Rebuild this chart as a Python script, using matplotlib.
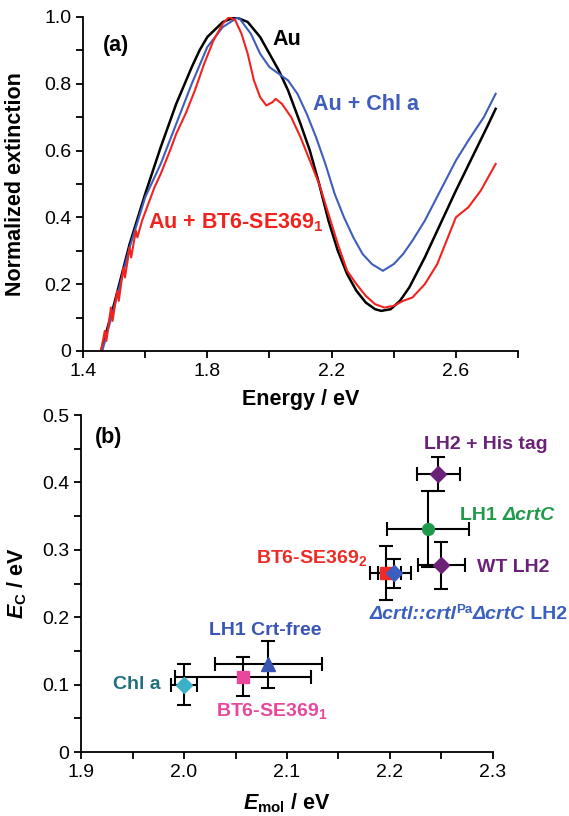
import matplotlib
matplotlib.use("Agg")
import matplotlib.pyplot as plt
from matplotlib.ticker import MultipleLocator, FixedLocator, FuncFormatter

plt.rcParams['font.family'] = ['Liberation Sans', 'DejaVu Sans']
plt.rcParams['mathtext.fontset'] = 'custom'
plt.rcParams['mathtext.rm'] = 'Liberation Sans:bold'
plt.rcParams['mathtext.bf'] = 'Liberation Sans:bold'
plt.rcParams['mathtext.it'] = 'Liberation Sans:italic:bold'

# (a) extinction spectra
au_e = [1.458, 1.50, 1.55, 1.60, 1.65, 1.70, 1.75, 1.775, 1.80, 1.85, 1.89, 1.93, 1.97,
        2.00, 2.03, 2.06, 2.10, 2.13, 2.16, 2.19, 2.22, 2.25, 2.28, 2.31, 2.34, 2.36,
        2.39, 2.42, 2.45, 2.50, 2.55, 2.60, 2.65, 2.70, 2.728]
au_v = [0.00, 0.14, 0.32, 0.47, 0.61, 0.74, 0.85, 0.90, 0.94, 0.985, 1.00, 0.985, 0.94,
        0.89, 0.84, 0.78, 0.68, 0.60, 0.50, 0.39, 0.30, 0.23, 0.18, 0.145, 0.125, 0.12,
        0.125, 0.15, 0.19, 0.28, 0.38, 0.48, 0.575, 0.67, 0.725]

chl_e = [1.462, 1.50, 1.55, 1.60, 1.65, 1.70, 1.75, 1.80, 1.85, 1.90, 1.94, 1.97, 2.00,
         2.03, 2.06, 2.09, 2.12, 2.15, 2.18, 2.21, 2.24, 2.27, 2.30, 2.33, 2.365, 2.40,
         2.43, 2.46, 2.50, 2.55, 2.60, 2.64, 2.69, 2.728]
chl_v = [0.00, 0.13, 0.31, 0.46, 0.56, 0.68, 0.80, 0.91, 0.97, 1.00, 0.95, 0.89, 0.85,
         0.83, 0.81, 0.77, 0.71, 0.64, 0.56, 0.47, 0.40, 0.34, 0.29, 0.26, 0.24, 0.26,
         0.29, 0.33, 0.39, 0.48, 0.57, 0.63, 0.70, 0.77]

bt_e = [1.458, 1.47, 1.475, 1.49, 1.495, 1.51, 1.515, 1.53, 1.535, 1.55, 1.555, 1.57,
        1.575, 1.59, 1.61, 1.63, 1.65, 1.68, 1.70, 1.73, 1.76, 1.79, 1.82, 1.85, 1.87,
        1.89, 1.91, 1.93, 1.95, 1.97, 1.99, 2.01, 2.02, 2.04, 2.07, 2.10, 2.13, 2.16,
        2.19, 2.22, 2.25, 2.28, 2.31, 2.34, 2.37, 2.40, 2.43, 2.46, 2.50, 2.54, 2.57,
        2.60, 2.64, 2.68, 2.728]
bt_v = [0.00, 0.06, 0.03, 0.13, 0.09, 0.18, 0.15, 0.25, 0.22, 0.31, 0.28, 0.36,
        0.34, 0.39, 0.44, 0.49, 0.53, 0.60, 0.65, 0.71, 0.78, 0.86, 0.93, 0.98, 1.00,
        0.99, 0.95, 0.89, 0.81, 0.76, 0.735, 0.745, 0.755, 0.74, 0.70, 0.64, 0.57, 0.50,
        0.41, 0.32, 0.24, 0.20, 0.165, 0.14, 0.13, 0.135, 0.15, 0.16, 0.20, 0.26, 0.33,
        0.40, 0.43, 0.48, 0.56]

# (b) coupling energy vs molecular energy
names = ['Chl a', 'BT6-SE369_1', 'LH1 Crt-free', 'BT6-SE369_2', 'dcrtI LH2',
         'LH1 dcrtC', 'WT LH2', 'LH2 + His tag']
e_mol = [2.000, 2.057, 2.082, 2.196, 2.204, 2.237, 2.250, 2.247]
e_c = [0.100, 0.112, 0.130, 0.265, 0.265, 0.331, 0.277, 0.413]
e_mol_err = [0.013, 0.066, 0.052, 0.015, 0.016, 0.040, 0.0225, 0.0205]
e_c_err = [0.030, 0.029, 0.035, 0.040, 0.022, 0.057, 0.035, 0.025]
markers = ['D', 's', '^', 's', 'D', 'o', 'D', 'D']
mcolors = ['#3BB0C8', '#E8479B', '#3A55B4', '#EE2A24', '#3A5FC0', '#1E9A4A',
           '#6B2178', '#6B2178']
msizes = [8, 8.5, 10, 8.5, 8, 8.5, 8, 8]

blue = '#3F5DBA'
red = '#F2231E'

fig = plt.figure(figsize=(5.69, 8.16), dpi=100)
ax1 = fig.add_axes([0.1459, 0.5699, 0.7645, 0.4093])
ax2 = fig.add_axes([0.1424, 0.0784, 0.7240, 0.4130])


def fmt(v, pos):
    if abs(v) < 1e-9:
        return '0'
    return '%.1f' % v


for ax in (ax1, ax2):
    ax.spines['top'].set_visible(False)
    ax.spines['right'].set_visible(False)
    ax.spines['left'].set_linewidth(1.3)
    ax.spines['bottom'].set_linewidth(1.3)
    ax.tick_params(which='both', direction='out', length=5, width=1.3, labelsize=14)
    ax.yaxis.set_major_formatter(FuncFormatter(fmt))

# panel (a)
ax1.plot(au_e, au_v, color='black', lw=1.8)
ax1.plot(chl_e, chl_v, color=blue, lw=1.5)
ax1.plot(bt_e, bt_v, color=red, lw=1.5)
ax1.set_xlim(1.4, 2.8)
ax1.set_ylim(0, 1.0)
ax1.xaxis.set_major_locator(FixedLocator([1.4, 1.8, 2.2, 2.6]))
ax1.xaxis.set_minor_locator(FixedLocator([1.6, 2.0, 2.4, 2.8]))
ax1.xaxis.set_major_formatter(FuncFormatter(lambda v, p: '%.1f' % v))
ax1.yaxis.set_major_locator(MultipleLocator(0.2))
ax1.yaxis.set_minor_locator(MultipleLocator(0.1))
ax1.set_xlabel('Energy / eV', fontsize=15.5, fontweight='bold')
ax1.set_ylabel('Normalized extinction', fontsize=15.5, fontweight='bold')
ax1.xaxis.set_label_coords(0.5, -0.115)
ax1.yaxis.set_label_coords(-0.13, 0.5)

ax1.text(1.464, 0.897, '(a)', fontsize=15.5, fontweight='bold')
ax1.text(2.011, 0.917, 'Au', fontsize=15.5, fontweight='bold', color='black')
ax1.text(2.139, 0.722, 'Au + Chl a', fontsize=15.5, fontweight='bold', color=blue)
ax1.text(1.61, 0.367, 'Au + BT6-SE369$_1$', fontsize=15.5, fontweight='bold', color=red)

# panel (b)
for i in range(len(names)):
    ax2.errorbar(e_mol[i], e_c[i], xerr=e_mol_err[i], yerr=e_c_err[i], fmt='none',
                 ecolor='black', elinewidth=1.5, capsize=5, capthick=1.5, zorder=2)
for i in range(len(names)):
    ax2.plot(e_mol[i], e_c[i], marker=markers[i], color=mcolors[i], ms=msizes[i],
             ls='none', zorder=3)

ax2.set_xlim(1.9, 2.3)
ax2.set_ylim(0, 0.5)
ax2.xaxis.set_major_locator(MultipleLocator(0.1))
ax2.xaxis.set_minor_locator(MultipleLocator(0.05))
ax2.yaxis.set_major_locator(MultipleLocator(0.1))
ax2.yaxis.set_minor_locator(MultipleLocator(0.05))
ax2.xaxis.set_major_formatter(FuncFormatter(lambda v, p: '%.1f' % v))
ax2.set_xlabel(r'$\mathit{E}_\mathrm{mol}$ / eV', fontsize=15.5, fontweight='bold')
ax2.set_ylabel(r'$\mathit{E}_\mathrm{C}$ / eV', fontsize=15.5, fontweight='bold')
ax2.xaxis.set_label_coords(0.5, -0.118)
ax2.yaxis.set_label_coords(-0.126, 0.5)

fs = 14
ax2.text(1.913, 0.458, '(b)', fontsize=15.5, fontweight='bold')
ax2.text(2.2326, 0.450, 'LH2 + His tag', fontsize=fs, fontweight='bold', color='#6B2178')
ax2.text(2.284, 0.267, 'WT LH2', fontsize=fs, fontweight='bold', color='#6B2178')
ax2.text(2.178, 0.281, 'BT6-SE369$_2$', fontsize=fs, fontweight='bold', color='#EE2A24',
         ha='right')
ax2.text(2.024, 0.174, 'LH1 Crt-free', fontsize=fs, fontweight='bold', color='#3A55B4')
ax2.text(1.931, 0.094, 'Chl a', fontsize=fs, fontweight='bold', color='#1F6F7C')
ax2.text(2.031, 0.053, 'BT6-SE369$_1$', fontsize=fs, fontweight='bold', color='#E8479B')

# LH1 ΔcrtC, upright + italic pieces
g = '#1E9A4A'
g1 = ax2.text(2.268, 0.339, 'LH1 ', fontsize=fs, fontweight='bold', color=g, va='bottom')
ax2.annotate('ΔcrtC', xy=(1.0, 0.0), xycoords=g1, fontsize=fs, fontweight='bold',
             style='italic', color=g, va='bottom')

# the Δcrtl::crtlPa ΔcrtC LH2 label, built from pieces
c = '#3A5FC0'
t1 = ax2.text(2.18, 0.192, 'Δcrtl::crtl', fontsize=fs, fontweight='bold', style='italic',
              color=c, va='bottom')
t2 = ax2.annotate('Pa', xy=(1.0, 0.38), xycoords=t1, fontsize=9.5, fontweight='bold',
                  color=c, va='bottom')
t3 = ax2.annotate('ΔcrtC', xy=(1.0, 0.0), xycoords=(t2, t1), fontsize=fs,
                  fontweight='bold', style='italic', color=c, va='bottom')
ax2.annotate(' LH2', xy=(1.0, 0.0), xycoords=t3, fontsize=fs, fontweight='bold',
             color=c, va='bottom')

fig.savefig('out.png', dpi=100)
